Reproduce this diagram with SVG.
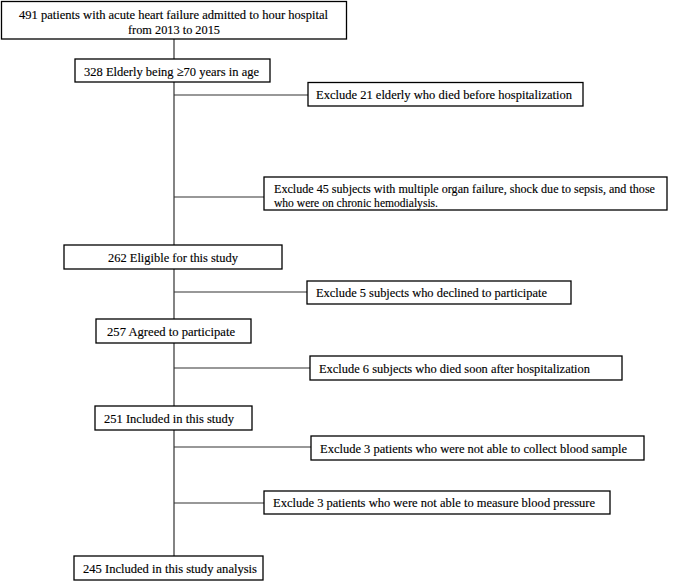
<svg xmlns="http://www.w3.org/2000/svg" width="685" height="581" viewBox="0 0 685 581">
<style>
.box{fill:#fff;stroke:#000;stroke-width:1.3}
text{font-family:'Liberation Serif','DejaVu Serif',serif;font-size:13px;fill:#000;stroke:#000;stroke-width:0.15}
.c{fill:none;stroke:#333;stroke-width:1.2}
</style>
<rect width="685" height="581" fill="#fff"/>
<g id="connectors">
<path class="c" d="M174 39V59M174 82V245M174 95H308M174 197H264M174 269V319M174 292H307M174 343V406M174 368H310M174 430V556M174 447H311M174 503H264"/>
</g>
<g id="n1"><rect class="box" x="1.5" y="1.5" width="345" height="37.5"/>
<text x="19" y="19" textLength="309" lengthAdjust="spacingAndGlyphs">491 patients with acute heart failure admitted to hour hospital</text>
<text x="128" y="34" textLength="92" lengthAdjust="spacingAndGlyphs">from 2013 to 2015</text></g>
<g id="n2"><rect class="box" x="75" y="59" width="195" height="23"/>
<text x="84" y="76" textLength="175" lengthAdjust="spacingAndGlyphs">328 Elderly being ≥70 years in age</text></g>
<g id="e21"><rect class="box" x="308" y="82.5" width="275" height="23.5"/>
<text x="316" y="99" textLength="256" lengthAdjust="spacingAndGlyphs">Exclude 21 elderly who died before hospitalization</text></g>
<g id="e45"><rect class="box" x="264" y="177" width="403" height="33"/>
<text x="274" y="193" textLength="381" lengthAdjust="spacingAndGlyphs">Exclude 45 subjects with multiple organ failure, shock due to sepsis, and those</text>
<text x="274" y="207" textLength="164" lengthAdjust="spacingAndGlyphs">who were on chronic hemodialysis.</text></g>
<g id="n3"><rect class="box" x="64" y="245" width="218" height="24"/>
<text x="108" y="262" textLength="130" lengthAdjust="spacingAndGlyphs">262 Eligible for this study</text></g>
<g id="e5"><rect class="box" x="307" y="281" width="264" height="23"/>
<text x="316" y="297" textLength="231" lengthAdjust="spacingAndGlyphs">Exclude 5 subjects who declined to participate</text></g>
<g id="n4"><rect class="box" x="96" y="319" width="155" height="24"/>
<text x="107" y="336" textLength="128" lengthAdjust="spacingAndGlyphs">257 Agreed to participate</text></g>
<g id="e6"><rect class="box" x="310" y="356" width="312" height="24"/>
<text x="319" y="373" textLength="271" lengthAdjust="spacingAndGlyphs">Exclude 6 subjects who died soon after hospitalization</text></g>
<g id="n5"><rect class="box" x="95" y="406" width="157" height="24"/>
<text x="104" y="423" textLength="130" lengthAdjust="spacingAndGlyphs">251 Included in this study</text></g>
<g id="e3a"><rect class="box" x="311" y="436" width="333" height="24"/>
<text x="320" y="453" textLength="307" lengthAdjust="spacingAndGlyphs">Exclude 3 patients who were not able to collect blood sample</text></g>
<g id="e3b"><rect class="box" x="264" y="491" width="346" height="23"/>
<text x="273" y="507" textLength="322" lengthAdjust="spacingAndGlyphs">Exclude 3 patients who were not able to measure blood pressure</text></g>
<g id="n6"><rect class="box" x="74" y="556" width="189" height="24"/>
<text x="83" y="573" textLength="174" lengthAdjust="spacingAndGlyphs">245 Included in this study analysis</text></g>
</svg>
